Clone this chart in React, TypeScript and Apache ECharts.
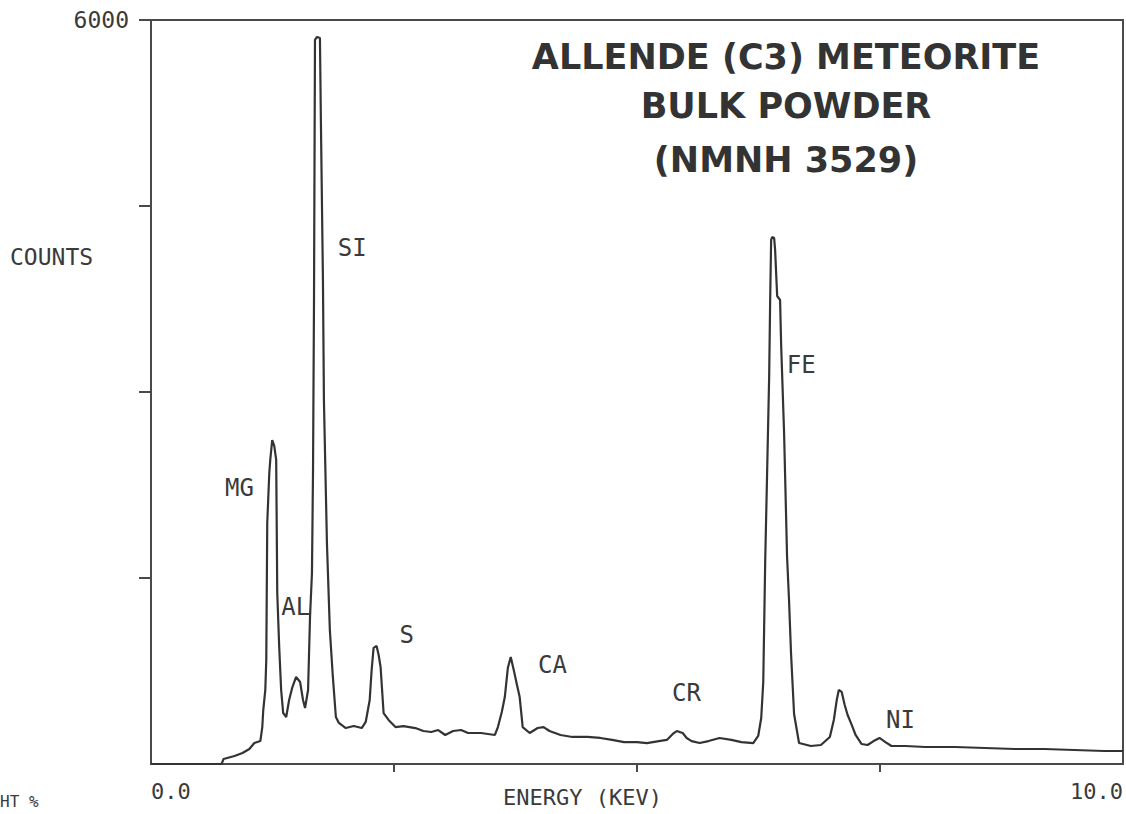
import React, { useEffect, useRef } from "react";
import * as echarts from "echarts";

// Spectrum (energy in keV, counts)
const energyKeV = [
  0, 0.726, 0.746, 0.859, 0.941, 1.012, 1.063, 1.125, 1.145, 1.155,
  1.176, 1.186, 1.196, 1.217, 1.227, 1.247, 1.268, 1.288, 1.299, 1.319,
  1.339, 1.36, 1.391, 1.421, 1.452, 1.493, 1.534, 1.564, 1.585, 1.616,
  1.636, 1.656, 1.667, 1.677, 1.682, 1.687, 1.708, 1.738, 1.748, 1.769,
  1.779, 1.81, 1.84, 1.871, 1.902, 1.933, 2.004, 2.086, 2.168, 2.209,
  2.25, 2.27, 2.29, 2.321, 2.342, 2.362, 2.393, 2.444, 2.515, 2.597,
  2.72, 2.802, 2.883, 2.955, 3.027, 3.108, 3.19, 3.262, 3.395, 3.538,
  3.569, 3.609, 3.64, 3.671, 3.701, 3.732, 3.763, 3.793, 3.824, 3.896,
  3.978, 4.039, 4.1, 4.213, 4.335, 4.489, 4.622, 4.744, 4.867, 5.0,
  5.102, 5.225, 5.307, 5.368, 5.409, 5.47, 5.511, 5.562, 5.644, 5.736,
  5.849, 5.971, 6.074, 6.196, 6.247, 6.278, 6.299, 6.319, 6.339, 6.36,
  6.37, 6.38, 6.391, 6.411, 6.421, 6.442, 6.472, 6.483, 6.513, 6.544,
  6.564, 6.585, 6.616, 6.667, 6.789, 6.892, 6.984, 7.025, 7.055, 7.076,
  7.106, 7.137, 7.167, 7.209, 7.249, 7.311, 7.372, 7.434, 7.495, 7.556,
  7.618, 7.761, 7.965, 8.272, 8.579, 8.885, 9.192, 9.499, 9.806, 10.0,
];
const counts = [
  0, 0, 40, 65, 89, 121, 169, 185, 298, 435,
  597, 839, 1944, 2347, 2452, 2613, 2565, 2452, 1379, 944,
  597, 411, 379, 516, 613, 702, 661, 516, 452, 597,
  1186, 1540, 2371, 3742, 4791, 5839, 5863, 5855, 5178, 3903,
  2936, 1782, 1081, 702, 379, 331, 290, 306, 290, 339,
  516, 758, 936, 952, 879, 782, 411, 355, 298, 306,
  290, 266, 258, 274, 234, 266, 274, 250, 250, 234,
  298, 419, 540, 774, 863, 758, 645, 540, 298, 250,
  290, 298, 266, 234, 218, 218, 210, 194, 177, 177,
  169, 185, 194, 242, 266, 250, 210, 185, 169, 185,
  210, 194, 177, 169, 226, 371, 661, 1637, 2363, 3137,
  3742, 4226, 4250, 4242, 4145, 3774, 3742, 3379, 2678, 1669,
  1323, 887, 403, 169, 145, 153, 218, 355, 516, 597,
  581, 476, 395, 315, 234, 161, 153, 185, 210, 177,
  145, 145, 137, 137, 129, 121, 121, 113, 105, 105,
];

// Element labels placed at (keV, counts)
const peakNames = ["MG", "AL", "SI", "S", "CA", "CR", "FE", "NI"];
const peakLabelKeV = [0.91, 1.49, 2.07, 2.63, 4.13, 5.51, 6.69, 7.71];
const peakLabelCounts = [2226, 1266, 4161, 1040, 798, 573, 3218, 355];

const titleLines = ["ALLENDE (C3) METEORITE", "BULK POWDER", "(NMNH 3529)"];
const xTickValues = [2.5, 5, 7.5];
const xLabelValues = [0, 10];
const yTickValues = [1500, 3000, 4500, 6000];
const yLabelValues = [6000];

const INK = "#3a3a3a";
const MONO = '"DejaVu Sans Mono", monospace';

export default function App() {
  const ref = useRef<HTMLDivElement>(null);

  useEffect(() => {
    document.body.style.margin = "0";
    const chart = echarts.init(ref.current!, null, { renderer: "svg" });
    const option: any = {
      animation: false,
      backgroundColor: "#ffffff",
      grid: {
        left: 151,
        top: 20,
        width: 978,
        height: 744,
        show: true,
        borderColor: "#4a4a4a",
        borderWidth: 2,
        backgroundColor: "transparent",
      },
      xAxis: {
        type: "value",
        min: 0,
        max: 10,
        interval: 2.5,
        splitLine: { show: false },
        axisLine: { show: true, onZero: false, lineStyle: { color: "#4a4a4a", width: 2 } },
        axisTick: {
          show: true,
          length: 8,
          customValues: xTickValues,
          lineStyle: { color: "#4a4a4a", width: 2 },
        },
        axisLabel: {
          customValues: xLabelValues,
          formatter: (v: number) => v.toFixed(1),
          margin: 16,
          color: INK,
          fontFamily: MONO,
          fontSize: 22,
          alignMinLabel: "left",
          alignMaxLabel: "right",
        },
      },
      yAxis: {
        type: "value",
        min: 0,
        max: 6000,
        interval: 1500,
        splitLine: { show: false },
        axisLine: { show: true, lineStyle: { color: "#4a4a4a", width: 2 } },
        axisTick: {
          show: true,
          length: 12,
          customValues: yTickValues,
          lineStyle: { color: "#4a4a4a", width: 2 },
        },
        axisLabel: {
          customValues: yLabelValues,
          formatter: (v: number) => String(v),
          margin: 22,
          color: INK,
          fontFamily: MONO,
          fontSize: 23,
        },
      },
      series: [
        {
          type: "line",
          data: energyKeV.map((e, i) => [e, counts[i]]),
          symbol: "none",
          lineStyle: { color: "#333333", width: 2.2 },
          silent: true,
          z: 3,
        },
        {
          type: "scatter",
          data: peakNames.map((n, i) => ({ name: n, value: [peakLabelKeV[i], peakLabelCounts[i]] })),
          symbolSize: 1,
          itemStyle: { color: "rgba(0,0,0,0)", opacity: 1 },
          silent: true,
          label: {
            show: true,
            position: "inside",
            formatter: (p: any) => p.name,
            color: INK,
            fontFamily: MONO,
            fontSize: 24,
          },
          z: 4,
        },
      ],
      graphic: [
        ...titleLines.map((t, i) => ({
          type: "text",
          x: 786,
          y: [57, 106, 160][i],
          style: {
            text: t,
            font: 'bold 35px "DejaVu Sans", sans-serif',
            fill: "#333333",
            align: "center",
            verticalAlign: "middle",
          },
        })),
        {
          type: "text",
          x: 10,
          y: 257,
          style: { text: "COUNTS", font: `23px ${MONO}`, fill: INK, align: "left", verticalAlign: "middle" },
        },
        {
          type: "text",
          x: 503,
          y: 797,
          style: { text: "ENERGY (KEV)", font: `22px ${MONO}`, fill: INK, align: "left", verticalAlign: "middle" },
        },
        {
          type: "text",
          x: 0,
          y: 801,
          style: { text: "HT %", font: `16px ${MONO}`, fill: INK, align: "left", verticalAlign: "middle" },
        },
      ],
    };
    chart.setOption(option);
    return () => chart.dispose();
  }, []);

  return (
    <div
      ref={ref}
      style={{ position: "absolute", left: 0, top: 0, width: 1126, height: 814, background: "#fff" }}
    />
  );
}
